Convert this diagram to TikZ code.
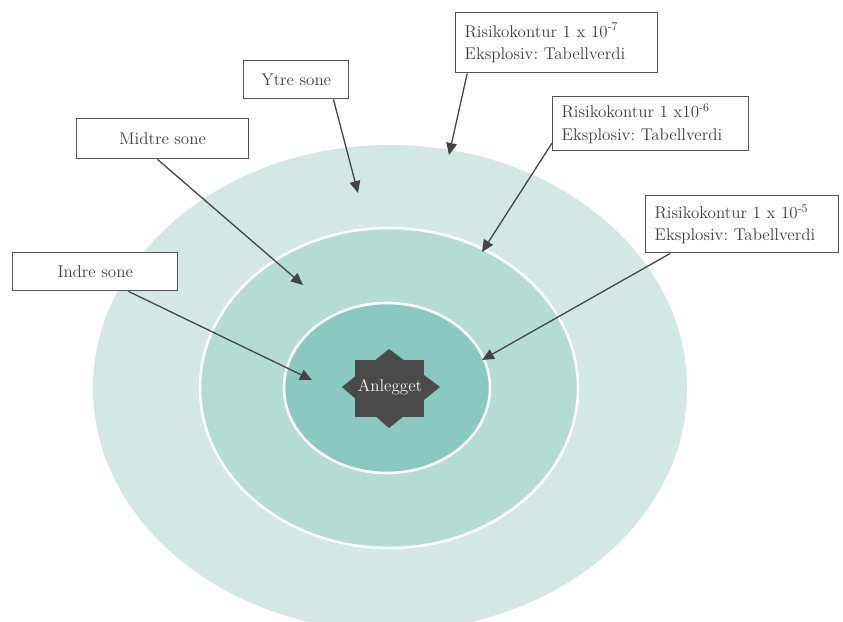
\documentclass[tikz,border=0pt]{standalone}
\usepackage{tikz}
\usetikzlibrary{arrows.meta,calc}
\frenchspacing
\definecolor{ytre}{RGB}{209,232,228}
\definecolor{midtre}{RGB}{180,220,213}
\definecolor{indre}{RGB}{137,201,191}
\definecolor{boxline}{RGB}{85,85,85}
\definecolor{tekst}{RGB}{66,64,62}
\definecolor{pil}{RGB}{68,68,68}
\definecolor{anlegg}{RGB}{74,74,74}
\tikzset{%
infobox/.style={draw=boxline, line width=1.2pt, fill=white, anchor=north west, inner xsep=0.27cm, align=left, text=tekst, font=\fontsize{14.5}{19}\selectfont},
sonebox/.style={draw=boxline, line width=1.2pt, fill=white, anchor=north west, align=center, text=tekst, font=\fontsize{14.5}{19}\selectfont},
pt/.style={draw=pil, line width=1.1pt, -{Triangle[length=3.6mm,width=3.2mm]}},
ring/.style={draw=white, line width=2.2pt}
}

\begin{document}
\begin{tikzpicture}[x=0.03cm, y=-0.03cm]
		\useasboundingbox (0,0) rectangle (843,622);
		\clip (0,0) rectangle (843,622);
		
		% sonene
		\fill[ytre] (390,388) ellipse [x radius=297, y radius=243];
		\filldraw[fill=midtre, ring] (389,388) ellipse [x radius=189, y radius=160];
		\filldraw[fill=indre, ring] (387,388) ellipse [x radius=103, y radius=85];
		
		% anlegget
		\fill[anlegg] (355,360) rectangle (424,417);
		\fill[anlegg] (389,349) -- (440,387) -- (389,428) -- (342,387) -- cycle;
		\node[text=white!92!gray, font=\fontsize{14.5}{19}\selectfont] (anlegg) at (390,387) {Anlegget};
		
		% boksene
		\node[infobox, text width=5.52cm, minimum height=1.8cm] (rk7) at (455,12) {Risikokontur 1 x 10\textsuperscript{-7}\\Eksplosiv: Tabellverdi};
		\node[infobox, text width=5.34cm, minimum height=1.62cm] (rk6) at (552,96) {Risikokontur 1 x10\textsuperscript{-6}\\Eksplosiv: Tabellverdi};
		\node[infobox, text width=5.25cm, minimum height=1.71cm] (rk5) at (645,195) {Risikokontur 1 x 10\textsuperscript{-5}\\Eksplosiv: Tabellverdi};
		\node[sonebox, minimum width=3.15cm, minimum height=1.14cm] (ytre) at (243,60) {Ytre sone};
		\node[sonebox, minimum width=5.16cm, minimum height=1.2cm] (midtre) at (76,118) {Midtre sone};
		\node[sonebox, minimum width=4.95cm, minimum height=1.14cm] (indre) at (12,252) {Indre sone};
		
		% pilspisser
		\coordinate (t7) at (449,155);
		\coordinate (t6) at (482,252);
		\coordinate (t5) at (482,360);
		\coordinate (ty) at (358,193);
		\coordinate (tm) at (303,285);
		\coordinate (ti) at (312,380);
		
		\draw[pt] ($(rk7.south west)!0.06!(rk7.south east)$) -- (t7);
		\draw[pt] ($(rk6.south west)!0.15!(rk6.north west)$) -- (t6);
		\draw[pt] ($(rk5.south west)!0.13!(rk5.south east)$) -- (t5);
		\draw[pt] ($(ytre.south west)!0.85!(ytre.south east)$) -- (ty);
		\draw[pt] ($(midtre.south west)!0.47!(midtre.south east)$) -- (tm);
		\draw[pt] ($(indre.south west)!0.70!(indre.south east)$) -- (ti);
	\end{tikzpicture}
\end{document}
